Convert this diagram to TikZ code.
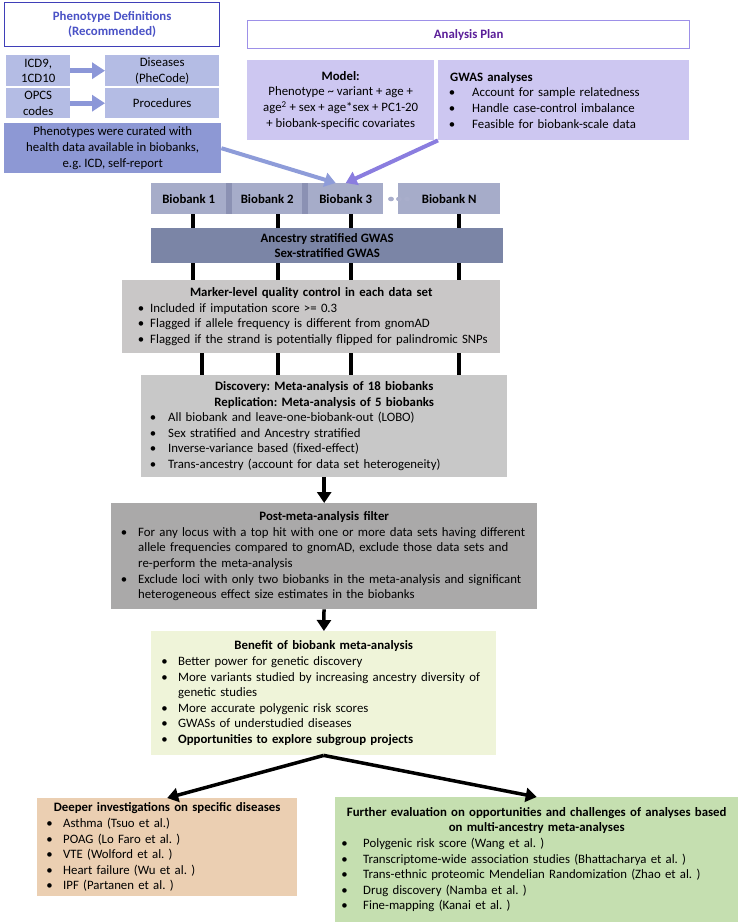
\documentclass[tikz,border=0pt]{standalone}
\usepackage{fontspec}
\setmainfont{Carlito}
\usetikzlibrary{arrows.meta}
\setlength{\parindent}{0pt}
\frenchspacing

\definecolor{defline}{HTML}{3F3FB8}
\definecolor{deftext}{HTML}{4A52C6}
\definecolor{planline}{HTML}{9D90E8}
\definecolor{plantext}{HTML}{5B1F99}
\definecolor{codefill}{HTML}{B4BCE4}
\definecolor{curfill}{HTML}{8D98D4}
\definecolor{planfill}{HTML}{CDC7F1}
\definecolor{bankfill}{HTML}{A6ACC9}
\definecolor{banksep}{HTML}{8B91B3}
\definecolor{dotcol}{HTML}{A9AECB}
\definecolor{ancfill}{HTML}{7B85A6}
\definecolor{qcfill}{HTML}{C9C7C7}
\definecolor{metafill}{HTML}{C8C8C8}
\definecolor{postfill}{HTML}{AAA9A9}
\definecolor{benfill}{HTML}{EFF4D9}
\definecolor{deepfill}{HTML}{EBCFB2}
\definecolor{furfill}{HTML}{C5DFB0}
\definecolor{codearrow}{HTML}{8C97D8}
\definecolor{curarrow}{HTML}{8E9CD9}
\definecolor{planarrow}{HTML}{8A7DDF}

% bullet list: text indent, gap between bullet and text
\newenvironment{blist}[2]{\begin{list}{\textbullet}{%
  \setlength{\leftmargin}{#1}\setlength{\labelsep}{#2}%
  \setlength{\labelwidth}{0pt}\setlength{\itemindent}{0pt}%
  \setlength{\itemsep}{0pt}\setlength{\parsep}{0pt}%
  \setlength{\topsep}{0pt}\setlength{\partopsep}{0pt}%
  \renewcommand{\makelabel}[1]{\llap{##1}}}}{\end{list}}

\begin{document}
\begin{tikzpicture}[x=1pt,y=-1pt,
  every node/.style={font=\fontsize{12.8}{15.6}\selectfont, inner sep=0pt, anchor=north west},
  box/.style={align=center},
  txtbox/.style={align=left},
  title/.style={align=center, font=\fontsize{12.8}{15.6}\selectfont\bfseries, fill=white, line width=1.3pt},
  bank/.style={align=center, fill=bankfill, font=\fontsize{12.8}{15.6}\selectfont\bfseries, minimum height=31pt},
  link/.style={line width=3.5pt, black},
  arr/.style={line width=3.5pt, -{Triangle[length=11pt,width=14pt]}},
  fatarr/.style={line width=5pt, codearrow, -{Triangle[length=13pt,width=16pt]}},
  bluearr/.style={line width=4pt, -{Triangle[length=11pt,width=14pt]}}]
  \useasboundingbox (0,0) rectangle (740,922);

  % Phenotype definitions
  \node[title, draw=defline, text=deftext, minimum width=215pt, minimum height=44pt] (pdef) at (4,2) {Phenotype Definitions\\(Recommended)};
  \node[box, fill=codefill, minimum width=64pt, minimum height=31pt] (icd) at (6,55) {ICD9,\\1CD10};
  \node[box, fill=codefill, minimum width=114pt, minimum height=31pt] (dis) at (105,55) {Diseases\\(PheCode)};
  \node[box, fill=codefill, minimum width=64pt, minimum height=30pt] (opcs) at (6,88) {OPCS\\codes};
  \node[box, fill=codefill, minimum width=114pt, minimum height=30pt] (proc) at (105,88) {Procedures};
  \node[box, fill=curfill, minimum width=217pt, minimum height=50pt] (cur) at (4,123) {Phenotypes were curated with\\health data available in biobanks,\\e.g. ICD, self-report};
  \draw[fatarr] (icd.east) -- (dis.west);
  \draw[fatarr] (opcs.east) -- (proc.west);

  % Analysis plan
  \node[title, draw=planline, text=plantext, minimum width=442pt, minimum height=28pt] (plan) at (247,20) {Analysis Plan};
  \node[box, fill=planfill, minimum width=187pt, minimum height=80pt] (model) at (247,60) {\textbf{Model:}\\Phenotype \textasciitilde{} variant + age +\\age\textsuperscript{2} + sex + age*sex + PC1-20\\+ biobank-specific covariates};
  \node[txtbox, fill=planfill, text width=251pt, minimum height=80pt] (gwas) at (438,60) {%
    \hspace*{12pt}\textbf{GWAS analyses}\par
    \begin{blist}{34pt}{17pt}
      \item Account for sample relatedness
      \item Handle case-control imbalance
      \item Feasible for biobank-scale data
    \end{blist}};

  % Biobanks
  \node[bank, minimum width=75pt] (b1) at (151,183) {Biobank 1};
  \node[bank, minimum width=70pt] (b2) at (232,183) {Biobank 2};
  \node[bank, minimum width=75pt] (b3) at (308,183) {Biobank 3};
  \node[bank, minimum width=102pt] (bn) at (398,183) {Biobank N};
  \fill[banksep] (226,183) rectangle (232,214);
  \fill[banksep] (302,183) rectangle (308,214);
  \fill[dotcol] (391,199) ellipse (3pt and 2.3pt);
  \fill[dotcol] (399,199) ellipse (3pt and 2.3pt);
  \fill[dotcol] (407,199) ellipse (3pt and 2.3pt);
  \draw[bluearr, curarrow] (cur.east) -- ([xshift=-10pt]b3.north);
  \draw[bluearr, planarrow] (gwas.south west) -- (b3.north);

  % GWAS and quality control
  \node[box, fill=ancfill, font=\fontsize{12.8}{15.6}\selectfont\bfseries, minimum width=352pt, minimum height=35pt] (anc) at (151,228) {Ancestry stratified GWAS\\Sex-stratified GWAS};
  \node[txtbox, fill=qcfill, text width=378pt, minimum height=73pt] (qc) at (122,280) {%
    {\centering\textbf{Marker-level quality control in each data set}\par}
    \begin{blist}{28pt}{6pt}
      \item Included if imputation score >= 0.3
      \item Flagged if allele frequency is different from gnomAD
      \item Flagged if the strand is potentially flipped for palindromic SNPs
    \end{blist}};
  \coordinate (c1) at (193,0);
  \coordinate (c1b) at (202,0);
  \coordinate (c2) at (278,0);
  \coordinate (c3) at (351,0);
  \coordinate (c4) at (459,0);
  \draw[link] (b1.south -| c1) -- (anc.north -| c1);
  \draw[link] (b2.south -| c2) -- (anc.north -| c2);
  \draw[link] (b3.south -| c3) -- (anc.north -| c3);
  \draw[link] (bn.south -| c4) -- (anc.north -| c4);
  \draw[link] (anc.south -| c1) -- (qc.north -| c1);
  \draw[link] (anc.south -| c2) -- (qc.north -| c2);
  \draw[link] (anc.south -| c3) -- (qc.north -| c3);
  \draw[link] (anc.south -| c4) -- (qc.north -| c4);

  % Meta-analysis
  \node[txtbox, fill=metafill, text width=366pt, minimum height=102pt] (meta) at (141,375) {%
    {\centering\textbf{Discovery: Meta-analysis of 18 biobanks}\\\textbf{Replication: Meta-analysis of 5 biobanks}\par}
    \begin{blist}{27pt}{12pt}
      \item All biobank and leave-one-biobank-out (LOBO)
      \item Sex stratified and Ancestry stratified
      \item Inverse-variance based (fixed-effect)
      \item Trans-ancestry (account for data set heterogeneity)
    \end{blist}};
  \draw[link] (qc.south -| c1b) -- (meta.north -| c1b);
  \draw[link] (qc.south -| c2) -- (meta.north -| c2);
  \draw[link] (qc.south -| c3) -- (meta.north -| c3);
  \draw[link] (qc.south -| c4) -- (meta.north -| c4);

  \node[txtbox, fill=postfill, text width=426pt, minimum height=106pt] (post) at (111,503) {%
    {\centering\textbf{Post-meta-analysis filter}\par}
    \begin{blist}{27pt}{11pt}
      \item For any locus with a top hit with one or more data sets having different\newline allele frequencies compared to gnomAD, exclude those data sets and\newline re-perform the meta-analysis
      \item Exclude loci with only two biobanks in the meta-analysis and significant\newline heterogeneous effect size estimates in the biobanks
    \end{blist}};
  \draw[arr] (meta) -- (post);

  \node[txtbox, fill=benfill, text width=345pt, minimum height=124pt] (ben) at (151,631) {%
    {\centering\textbf{Benefit of biobank meta-analysis}\par}
    \begin{blist}{27pt}{10.5pt}
      \item Better power for genetic discovery
      \item More variants studied by increasing ancestry diversity of\newline genetic studies
      \item More accurate polygenic risk scores
      \item GWASs of understudied diseases
      \item \textbf{Opportunities to explore subgroup projects}
    \end{blist}};
  \draw[arr] (post) -- (ben);

  % Follow-up studies
  \node[txtbox, fill=deepfill, text width=260pt, minimum height=98pt] (deep) at (37,798) {%
    {\centering\textbf{Deeper investigations on specific diseases}\par}
    \begin{blist}{26pt}{10.5pt}
      \item Asthma (Tsuo et al.)
      \item POAG (Lo Faro et al. )
      \item VTE (Wolford et al. )
      \item Heart failure (Wu et al. )
      \item IPF (Partanen et al. )
    \end{blist}};
  \node[txtbox, fill=furfill, text width=403pt, minimum height=125pt] (fur) at (335,797) {%
    {\centering\textbf{Further evaluation on opportunities and challenges of analyses based}\\\textbf{on multi-ancestry meta-analyses}\par}
    \begin{blist}{28pt}{15.5pt}
      \item Polygenic risk score (Wang et al. )
      \item Transcriptome-wide association studies (Bhattacharya et al. )
      \item Trans-ethnic proteomic Mendelian Randomization (Zhao et al. )
      \item Drug discovery (Namba et al. )
      \item Fine-mapping (Kanai et al. )
    \end{blist}};
  \draw[arr] (ben.south) -- (deep.north);
  \draw[arr] (ben.south) -- (fur.north);
\end{tikzpicture}
\end{document}
